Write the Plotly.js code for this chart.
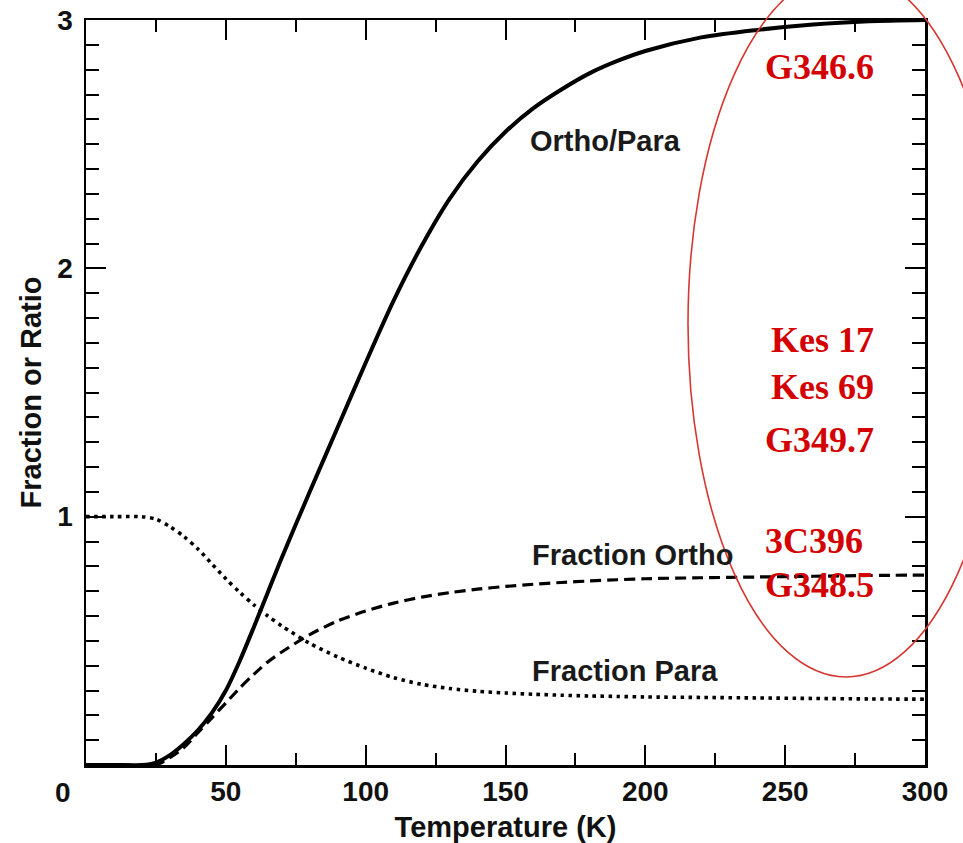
<!DOCTYPE html>
<html>
<head>
<meta charset="utf-8">
<script src="https://cdn.plot.ly/plotly-3.0.1.min.js"></script>
<style>html,body{margin:0;padding:0;background:#fff;}#chart{width:963px;height:843px;}</style>
</head>
<body>
<div id="chart"></div>
<script>
// Temperature (K)
var temperature = [0, 10, 20, 25, 30, 35, 40, 45, 50, 55, 60, 65, 70, 80, 90, 100, 110, 120, 130, 140, 150, 160, 170, 180, 190, 200, 220, 240, 260, 280, 300];
// Ortho/Para ratio (solid)
var orthoParaRatio = [0, 0, 0, 0.01, 0.04, 0.085, 0.14, 0.21, 0.30, 0.42, 0.555, 0.695, 0.835, 1.10, 1.36, 1.62, 1.87, 2.09, 2.28, 2.43, 2.55, 2.645, 2.72, 2.785, 2.835, 2.875, 2.93, 2.96, 2.982, 2.995, 3.0];
// Fraction ortho (dashed)
var fractionOrtho = [0, 0, 0, 0, 0.03, 0.07, 0.13, 0.19, 0.25, 0.31, 0.365, 0.415, 0.455, 0.525, 0.58, 0.62, 0.652, 0.676, 0.694, 0.708, 0.719, 0.728, 0.735, 0.741, 0.746, 0.75, 0.754, 0.757, 0.76, 0.763, 0.765];
// Fraction para (dotted)
var fractionPara = [1, 1, 1, 0.99, 0.96, 0.92, 0.87, 0.81, 0.75, 0.695, 0.645, 0.60, 0.56, 0.49, 0.435, 0.39, 0.352, 0.325, 0.308, 0.297, 0.29, 0.285, 0.281, 0.278, 0.276, 0.274, 0.272, 0.27, 0.268, 0.266, 0.265];

var xTickVals = [50, 100, 150, 200, 250, 300];
var xTickText = ['50', '100', '150', '200', '250', '300'];
var yTickVals = [1, 2, 3];
var yTickText = ['1', '2', '3'];

var curveLabels = ['Ortho/Para', 'Fraction Ortho', 'Fraction Para'];
var sourceNames = ['G346.6', 'Kes 17', 'Kes 69', 'G349.7', '3C396', 'G348.5'];

var FONT = 'Liberation Sans, Arial, Helvetica, sans-serif';
var SERIF = 'Liberation Serif, Times New Roman, serif';
var RED = '#d40000';

var traces = [
  {x: temperature, y: orthoParaRatio, mode: 'lines', line: {color: '#000', width: 4, shape: 'spline', smoothing: 0.8}, hoverinfo: 'skip'},
  {x: temperature, y: fractionOrtho, mode: 'lines', line: {color: '#000', width: 3.2, dash: '11px,6px', shape: 'spline', smoothing: 0.8}, hoverinfo: 'skip'},
  {x: temperature, y: fractionPara, mode: 'lines', line: {color: '#000', width: 3.6, dash: '3.5px,4.5px', shape: 'spline', smoothing: 0.8}, hoverinfo: 'skip'}
];

// plot area in pixels
var L = 86, R = 925, T = 20, B = 765;
function px2paperX(px) { return (px - L) / (R - L); }
function px2paperY(py) { return (B - py) / (B - T); }

var annotations = [
  {xref: 'x', yref: 'y', x: 158, y: 2.513, text: curveLabels[0], xanchor: 'left', yanchor: 'middle', showarrow: false, font: {family: FONT, size: 29, color: '#1a1a1a', weight: 'bold'}},
  {xref: 'x', yref: 'y', x: 158.7, y: 0.846, text: curveLabels[1], xanchor: 'left', yanchor: 'middle', showarrow: false, font: {family: FONT, size: 29, color: '#1a1a1a', weight: 'bold'}},
  {xref: 'x', yref: 'y', x: 158.7, y: 0.379, text: curveLabels[2], xanchor: 'left', yanchor: 'middle', showarrow: false, font: {family: FONT, size: 29, color: '#1a1a1a', weight: 'bold'}},
  {xref: 'paper', yref: 'paper', x: px2paperX(63), y: px2paperY(792), text: '0', xanchor: 'center', yanchor: 'middle', showarrow: false, font: {family: FONT, size: 28, color: '#111', weight: 'bold'}}
];

var redPos = [[763, 67], [769, 340], [769, 387], [763, 440], [763, 541], [763, 585]];
for (var i = 0; i < sourceNames.length; i++) {
  annotations.push({xref: 'paper', yref: 'paper', x: px2paperX(redPos[i][0]), y: px2paperY(redPos[i][1]), text: sourceNames[i], xanchor: 'left', yanchor: 'middle', showarrow: false, font: {family: SERIF, size: 36, color: RED, weight: 'bold'}});
}

// red ellipse (pixel box: centre 846,324, radii 158 x 353)
var shapes = [
  {type: 'circle', xref: 'paper', yref: 'paper', x0: px2paperX(688), x1: px2paperX(1004), y0: px2paperY(677), y1: px2paperY(-29), line: {color: 'rgb(214,55,50)', width: 1.6}, layer: 'above'}
];

var axisCommon = {
  showline: true, linecolor: '#000', linewidth: 2.5, mirror: 'ticks',
  ticks: 'inside', tickcolor: '#000', tickwidth: 2, ticklen: 20,
  showgrid: false, zeroline: false, fixedrange: true,
  tickfont: {family: FONT, size: 28, color: '#111', weight: 'bold'}
};

var layout = {
  width: 963, height: 843,
  margin: {l: L, r: 963 - R, t: T, b: 843 - B},
  paper_bgcolor: '#fff', plot_bgcolor: '#fff',
  showlegend: false,
  xaxis: Object.assign({}, axisCommon, {
    range: [0, 300], tickmode: 'array', tickvals: xTickVals, ticktext: xTickText,
    ticklabelstandoff: 0,
    minor: {dtick: 25, tick0: 0, ticks: 'inside', ticklen: 12, tickwidth: 2, tickcolor: '#000'},
    title: {text: 'Temperature (K)', font: {family: FONT, size: 29, color: '#111', weight: 'bold'}, standoff: 12}
  }),
  yaxis: Object.assign({}, axisCommon, {
    range: [0, 3], tickmode: 'array', tickvals: yTickVals, ticktext: yTickText,
    ticklabelstandoff: 5,
    minor: {dtick: 0.1, tick0: 0, ticks: 'inside', ticklen: 13, tickwidth: 2, tickcolor: '#000'},
    title: {text: 'Fraction or Ratio', font: {family: FONT, size: 29, color: '#111', weight: 'bold'}, standoff: 7}
  }),
  annotations: annotations,
  shapes: shapes
};

Plotly.newPlot('chart', traces, layout, {displayModeBar: false, staticPlot: true});
</script>
</body>
</html>
